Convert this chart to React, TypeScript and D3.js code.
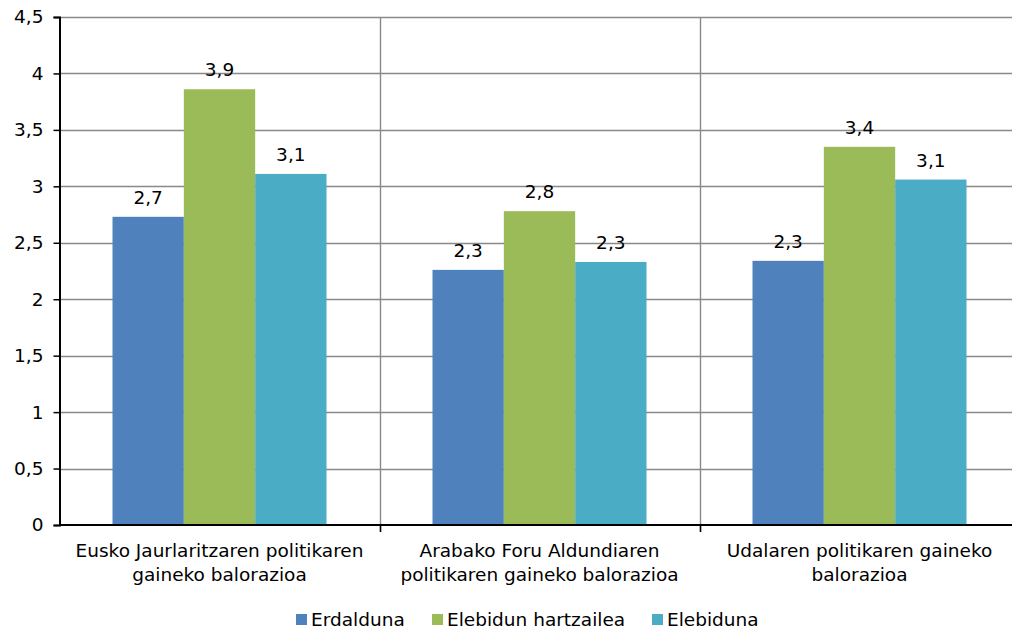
import React, { useRef, useEffect } from 'react'
import * as d3 from 'd3'

// categories (each label split on two lines)
const categories = [
  ['Eusko Jaurlaritzaren politikaren', 'gaineko balorazioa'],
  ['Arabako Foru Aldundiaren', 'politikaren gaineko balorazioa'],
  ['Udalaren politikaren gaineko', 'balorazioa'],
]
const seriesNames = ['Erdalduna', 'Elebidun hartzailea', 'Elebiduna']
const erdalduna = [2.73, 2.26, 2.34]
const elebidunHartzailea = [3.86, 2.78, 3.35]
const elebiduna = [3.11, 2.33, 3.06]
const yTicks = [0, 0.5, 1, 1.5, 2, 2.5, 3, 3.5, 4, 4.5]
const colors = ['#4F81BD', '#9BBB59', '#4BACC6']

const W = 1012
const H = 635
const fmt = (v: number) => (Math.round(v * 10 + 1e-6) / 10).toFixed(1).replace('.', ',')

function App() {
  const svgRef = useRef<SVGSVGElement>(null)

  useEffect(() => {
    const svg = d3.select(svgRef.current)
    svg.selectAll('*').remove()
    const font = 'Verdana, "DejaVu Sans", sans-serif'
    const fs = 18.5
    const left = 59.5, right = 1019.5, top = 17, bottom = 525

    const series = [erdalduna, elebidunHartzailea, elebiduna]
    const x = d3.scaleBand<number>().domain(categories.map((_, i) => i)).range([left, right])
    const inner = d3.scaleBand<number>().domain([0, 1, 2]).range([53, x.bandwidth() - 53])
    const y = d3.scaleLinear().domain([0, 4.5]).range([bottom, top])

    // horizontal gridlines
    svg.append('g').selectAll('line').data(yTicks.filter(t => t > 0)).join('line')
      .attr('x1', left).attr('x2', right)
      .attr('y1', d => Math.round(y(d)) + 0.5).attr('y2', d => Math.round(y(d)) + 0.5)
      .attr('stroke', '#898989').attr('stroke-width', 1.4)

    // vertical separators
    svg.append('g').selectAll('line').data([1, 2]).join('line')
      .attr('x1', d => Math.round(x(d)!) + 0.5).attr('x2', d => Math.round(x(d)!) + 0.5)
      .attr('y1', top).attr('y2', bottom + 7)
      .attr('stroke', '#898989').attr('stroke-width', 1.4)

    // bars
    series.forEach((vals, s) => {
      const g = svg.append('g')
      g.selectAll('rect').data(vals).join('rect')
        .attr('x', (_, i) => x(i)! + inner(s)!)
        .attr('width', inner.bandwidth())
        .attr('y', d => y(d))
        .attr('height', d => bottom - y(d))
        .attr('fill', colors[s])
      g.selectAll('text').data(vals).join('text')
        .attr('x', (_, i) => x(i)! + inner(s)! + inner.bandwidth() / 2)
        .attr('y', d => y(d) - 13)
        .attr('text-anchor', 'middle')
        .attr('font-family', font).attr('font-size', fs).attr('fill', '#000')
        .text(d => fmt(d))
    })

    // y axis
    const yAxis = svg.append('g').attr('transform', `translate(${left},0)`)
      .call(d3.axisLeft(y).tickValues(yTicks).tickSize(6).tickPadding(10).tickFormat(d => fmt(+d).replace(',0', '')))
    yAxis.select('.domain').attr('stroke', '#000').attr('stroke-width', 2)
    yAxis.selectAll('.tick line').attr('stroke', '#000').attr('stroke-width', 1.5)
    yAxis.selectAll('text').attr('font-family', font).attr('font-size', fs).attr('fill', '#000')

    // x axis line + ticks
    svg.append('line').attr('x1', left).attr('x2', right).attr('y1', bottom).attr('y2', bottom)
      .attr('stroke', '#000').attr('stroke-width', 2)
    svg.append('g').selectAll('line').data([1, 2]).join('line')
      .attr('x1', d => Math.round(x(d)!) + 0.5).attr('x2', d => Math.round(x(d)!) + 0.5)
      .attr('y1', bottom).attr('y2', bottom + 7)
      .attr('stroke', '#000').attr('stroke-width', 1.5)

    // category labels
    const cl = svg.append('g').selectAll('text').data(categories).join('text')
      .attr('text-anchor', 'middle')
      .attr('font-family', font).attr('font-size', fs).attr('fill', '#000')
    cl.each(function (lines, i) {
      const t = d3.select(this)
      lines.forEach((ln, k) => {
        t.append('tspan').attr('x', x(i)! + x.bandwidth() / 2).attr('y', 557 + k * 24).text(ln)
      })
    })

    // legend
    const legX = [296, 432, 652]
    const leg = svg.append('g')
    seriesNames.forEach((n, i) => {
      leg.append('rect').attr('x', legX[i]).attr('y', 614).attr('width', 11).attr('height', 11).attr('fill', colors[i])
      leg.append('text').attr('x', legX[i] + 15).attr('y', 626)
        .attr('font-family', font).attr('font-size', fs).attr('fill', '#000').text(n)
    })
  }, [])

  return (
    <svg ref={svgRef} width={W} height={H}
      style={{ position: 'absolute', left: 0, top: 0, background: '#fff' }} />
  )
}

export default App
